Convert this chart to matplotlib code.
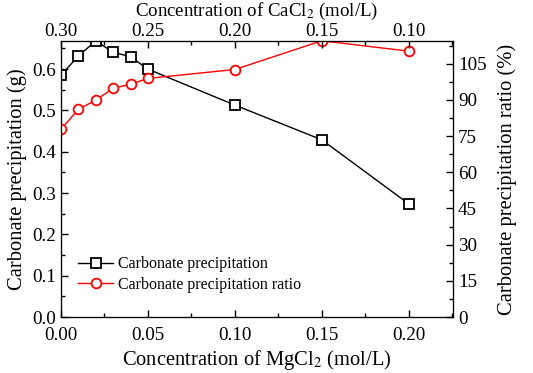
#Carbonate precipitation vs MgCl2 / CaCl2 concentration

import matplotlib
matplotlib.use("Agg")
import matplotlib.pyplot as plt
from matplotlib.ticker import MultipleLocator

plt.rcParams['font.family'] = ['Liberation Serif', 'DejaVu Serif']
plt.rcParams['mathtext.fontset'] = 'stix'

mgcl2 = [0.0, 0.01, 0.02, 0.03, 0.04, 0.05, 0.10, 0.15, 0.20]
precip = [0.585, 0.632, 0.668, 0.641, 0.630, 0.600, 0.513, 0.429, 0.274]     #g
ratio = [77.8, 86.1, 89.9, 94.8, 96.5, 98.9, 102.6, 114.5, 110.2]           #%

cacl2_ticks = [0.30, 0.25, 0.20, 0.15, 0.10]
cacl2_labels = ["0.30", "0.25", "0.20", "0.15", "0.10"]

fig = plt.figure(figsize=(5.33, 3.73), dpi=100)
ax = fig.add_axes([0.1144, 0.150, 0.7356, 0.740])

l1, = ax.plot(mgcl2, precip, c="black", lw=1, marker="s", ms=7,
              mfc="white", mec="black", mew=1.3, label="Carbonate precipitation")
ax.set_xlim(0, 0.2255)
ax.set_ylim(0, 0.668)
ax.xaxis.set_major_locator(MultipleLocator(0.05))
ax.xaxis.set_minor_locator(MultipleLocator(0.025))
ax.yaxis.set_major_locator(MultipleLocator(0.1))
ax.yaxis.set_minor_locator(MultipleLocator(0.05))
ax.set_xticks([0, 0.05, 0.10, 0.15, 0.20], ["0.00", "0.05", "0.10", "0.15", "0.20"])
ax.set_xlabel("Concentration of MgCl$_2$ (mol/L)", fontsize=14.8, labelpad=3)
ax.set_ylabel("Carbonate precipitation (g)", fontsize=14.8, labelpad=4)

ax2 = ax.twinx()
l2, = ax2.plot(mgcl2, ratio, c="red", lw=1, marker="o", ms=7,
               mfc="white", mec="red", mew=1.3, label="Carbonate precipitation ratio")
ax2.set_ylim(0, 114.4)
ax2.yaxis.set_major_locator(MultipleLocator(15))
ax2.yaxis.set_minor_locator(MultipleLocator(7.5))
ax2.set_ylabel("Carbonate precipitation ratio (%)", fontsize=14.8, labelpad=8)

ax3 = ax.twiny()
ax3.set_xlim(0.30, 0.30 - 0.2255)
ax3.set_xticks(cacl2_ticks, cacl2_labels)
ax3.xaxis.set_minor_locator(MultipleLocator(0.025))
ax3.set_xlabel("Concentration of CaCl$_2$ (mol/L)", fontsize=13.6, labelpad=4.5)

for a in (ax, ax2, ax3):
    a.tick_params(which="both", direction="in", labelsize=13.8, width=1)
    a.tick_params(which="major", length=5)
    a.tick_params(which="minor", length=3)
ax.tick_params(axis="x", pad=7)
ax3.tick_params(axis="x", pad=1)

ax3.legend([l1, l2], [l1.get_label(), l2.get_label()], loc="lower left",
           bbox_to_anchor=(0.007, 0.035), frameon=False, fontsize=11.5,
           handlelength=2.2, handletextpad=0.3, labelspacing=0.3)

fig.savefig("out.png", dpi=100)
